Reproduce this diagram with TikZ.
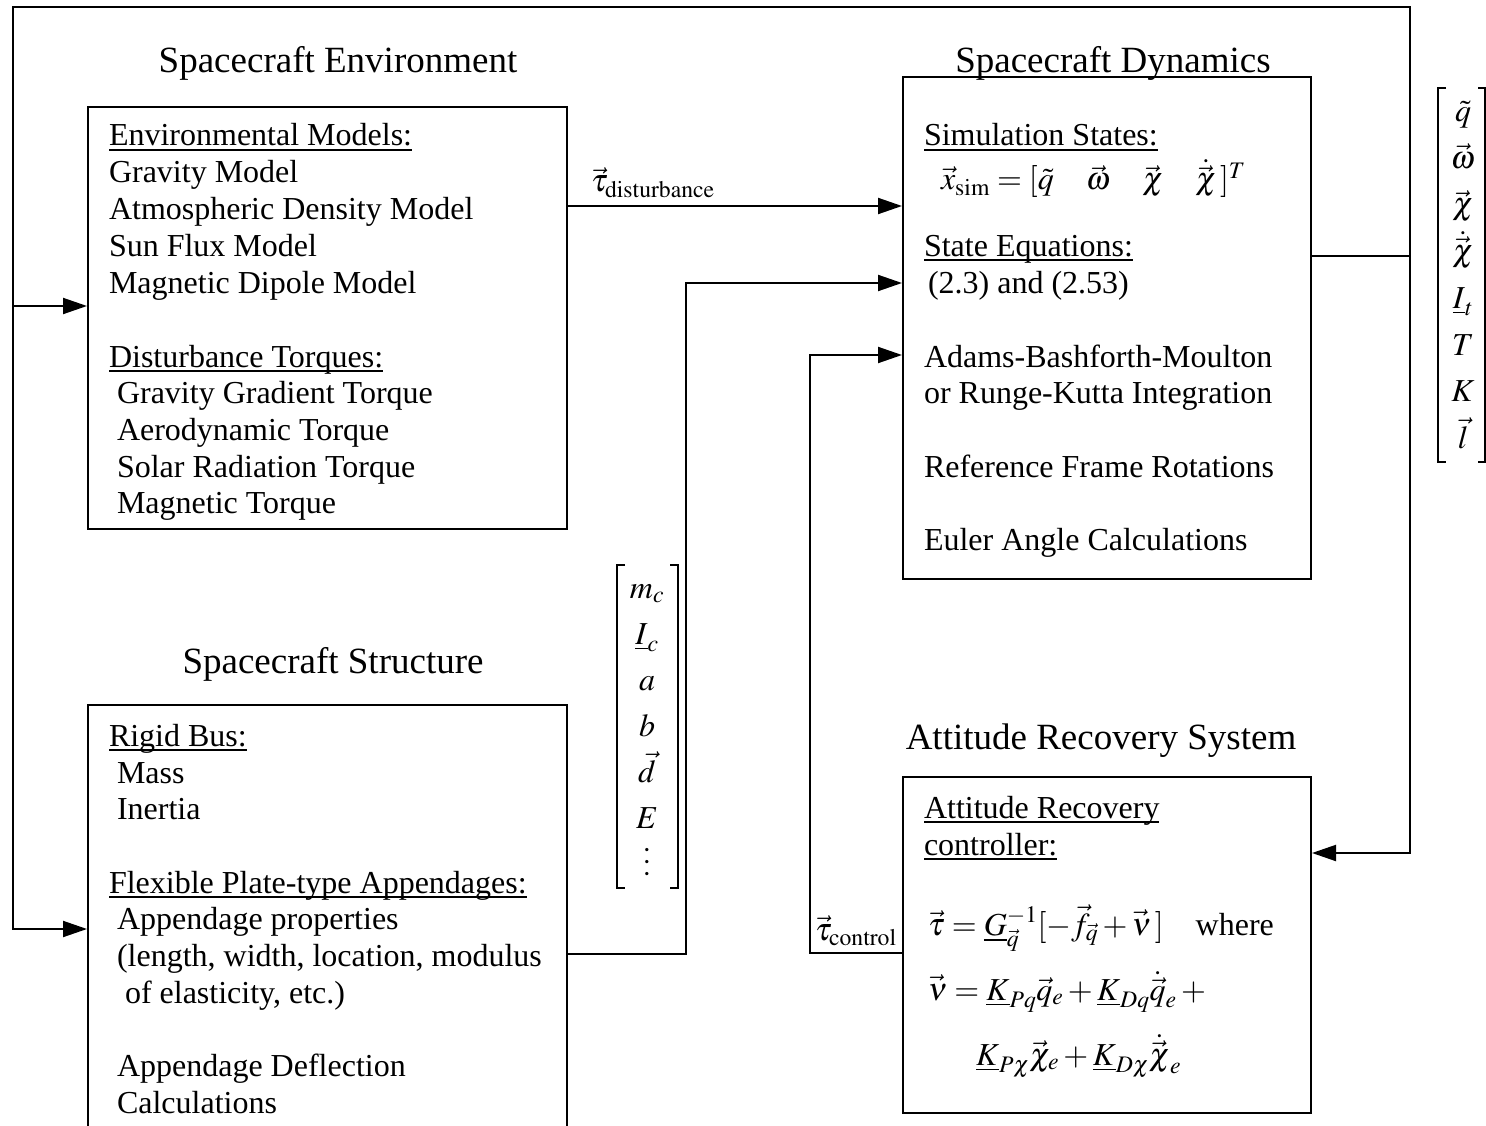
\documentclass[tikz,border=0pt]{standalone}
\usepackage{mathptmx}
\usepackage[no-math]{fontspec}
\setmainfont{Liberation Serif}
\usetikzlibrary{arrows.meta,positioning}
\newcommand{\uln}[1]{\setbox0\hbox{#1}\rlap{\rule[-5pt]{\wd0}{1.6pt}}\box0}

\begin{document}
\begin{tikzpicture}[x=1pt,y=-1pt,line width=2pt,
    blk/.style={draw,line width=2pt,inner sep=0pt},
    txt/.style={anchor=base west,inner sep=0pt,font=\fontsize{32}{36}\selectfont},
    ttl/.style={anchor=base,inner sep=0pt,font=\fontsize{37}{42}\selectfont},
    ent/.style={anchor=base,inner sep=0pt,font=\fontsize{32}{36}\selectfont},
    arr/.style={-{Triangle[length=24pt,width=16pt]}},
    brk/.style={line width=1.3pt}]
  \useasboundingbox (0,0) rectangle (1486,1126);
  % blocks
  \node[blk,minimum width=479pt,minimum height=422pt] (env) at (327.5,318) {};
  \node[blk,minimum width=408pt,minimum height=502pt] (dyn) at (1107,328) {};
  \node[blk,minimum width=479pt,minimum height=455pt] (str) at (327.5,932.5) {};
  \node[blk,minimum width=408pt,minimum height=336pt] (ars) at (1107,945) {};
  % titles
  \node[ttl] (envttl) at (338,73) {Spacecraft Environment};
  \node[ttl] (dynttl) at (1113,73) {Spacecraft Dynamics};
  \node[ttl] (strttl) at (333,673) {Spacecraft Structure};
  \node[ttl] (arsttl) at (1101,749) {Attitude Recovery System};
  % block texts
  \foreach \x/\y/\t [count=\i] in {108/146/{\uln{Environmental Models:}},
      108/183/Gravity Model, 108/220/Atmospheric Density Model,
      108/256/Sun Flux Model, 108/293/Magnetic Dipole Model,
      108/367/{\uln{Disturbance Torques:}}, 116/403/Gravity Gradient Torque,
      116/440/Aerodynamic Torque, 116/477/Solar Radiation Torque,
      116/513/Magnetic Torque}
    \node[txt] (env\i) at (\x,\y) {\t};
  \foreach \x/\y/\t [count=\i] in {923/146/{\uln{Simulation States:}},
      923/256/{\uln{State Equations:}}, 927/293/{(2.3) and (2.53)},
      923/367/Adams-Bashforth-Moulton, 923/403/or Runge-Kutta Integration,
      923/477/Reference Frame Rotations, 923/550/Euler Angle Calculations}
    \node[txt] (dyn\i) at (\x,\y) {\t};
  \foreach \x/\y/\t [count=\i] in {108/746/{\uln{Rigid Bus:}},
      116/783/Mass, 116/819/Inertia,
      108/893/{\uln{Flexible Plate-type Appendages:}},
      116/929/Appendage properties,
      116/966/{(length, width, location, modulus},
      124/1003/{of elasticity, etc.)},
      116/1076/Appendage Deflection, 116/1113/Calculations}
    \node[txt] (str\i) at (\x,\y) {\t};
  \node[txt] (ars1) at (923,818) {\uln{Attitude Recovery}};
  \node[txt] (ars2) at (923,855) {\uln{controller:}};
  % equations
  \node[txt] (xsim) at (940,190)
    {$\vec{x}_{\mathrm{sim}} = [\tilde{q} \quad \vec{\omega} \quad \vec{\chi} \quad \dot{\vec{\chi}}\,]^T$};
  \node[txt] (taueq) at (927,935)
    {$\vec{\tau} = \underline{G}_{\vec{q}}^{-1}[-\vec{f}_{\vec{q}} + \vec{\nu}\,]$\quad where};
  \node[txt] (nueq) at (927,1000)
    {$\vec{\nu} = \underline{K}_{Pq}\vec{q}_e + \underline{K}_{Dq}\dot{\vec{q}}_e +{}$};
  \node[txt] (nueqb) at (975,1065)
    {$\underline{K}_{P\chi}\vec{\chi}_e + \underline{K}_{D\chi}\dot{\vec{\chi}}_e$};
  % parameter vectors
  \draw[brk] (625,565) -- (617,565) -- (617,888) -- (625,888);
  \draw[brk] (670,565) -- (678,565) -- (678,888) -- (670,888);
  \foreach \t [count=\i] in {{$m_c$},{$\underline{I}_c$},{$a$},{$b$},{$\vec{d}$},{$E$}}
    \node[ent] (par\i) at (647,{565+46.14*(\i-0.5)+10}) {\t};
  \node[ent,anchor=center] (par7) at (647,862) {\rotatebox{90}{$\ldots$}};
  \draw[brk] (1446,88) -- (1438,88) -- (1438,462) -- (1446,462);
  \draw[brk] (1478,88) -- (1485,88) -- (1485,462) -- (1478,462);
  \foreach \t [count=\i] in {{$\tilde{q}$},{$\vec{\omega}$},{$\vec{\chi}$},{$\dot{\vec{\chi}}$},
      {$\underline{I}_t$},{$T$},{$K$},{$\vec{l}$}}
    \node[ent] (out\i) at (1463,{88+46.75*(\i-0.5)+10}) {\t};
  % connectors
  \draw[arr] (env.east |- 0,206) -- (dyn.west |- 0,206);
  \node[txt] (tdist) at (590,192) {$\vec{\tau}_{\mathrm{disturbance}}$};
  \draw[arr] (str.east |- 0,954) -- (686,954) -- (686,283) -- (dyn.west |- 0,283);
  \draw[arr] (ars.west |- 0,953) -- (810,953) -- (810,355) -- (dyn.west |- 0,355);
  \node[txt] (tctrl) at (814,940) {$\vec{\tau}_{\mathrm{control}}$};
  \draw[arr] (dyn.east |- 0,256) -- (1410,256) -- (1410,853) -- (ars.east |- 0,853);
  \draw[arr] (1410,256) -- (1410,7) -- (13,7) -- (13,929) -- (str.west |- 0,929);
  \draw[arr] (13,306) -- (env.west |- 0,306);
\end{tikzpicture}
\end{document}
